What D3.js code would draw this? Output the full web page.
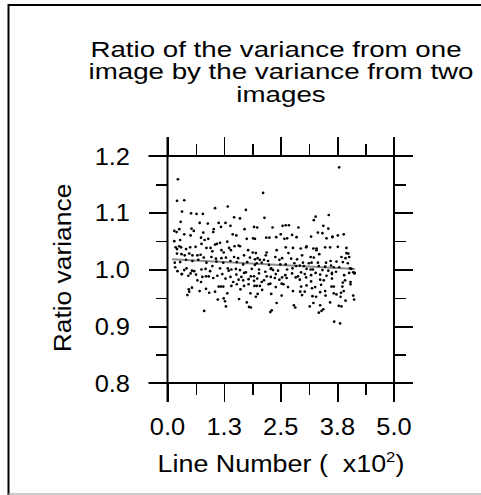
<!DOCTYPE html>
<html>
<head>
<meta charset="utf-8">
<script src="https://cdn.jsdelivr.net/npm/d3@7"></script>
<style>
  html, body { margin: 0; padding: 0; background: #fff; }
  svg { display: block; }
  text { font-family: "Liberation Sans", Arial, Helvetica, sans-serif; fill: #000; white-space: pre; }
</style>
</head>
<body>
<svg id="chart" width="481" height="495"></svg>
<script>
// ---- data ----
const titleLines = ["Ratio of the variance from one", "image by the variance from two", "images"];
const yAxisTitle = "Ratio variance";
const xAxisTitle = "Line Number (  x10";
const xAxisExponent = "2";

const xMajorTicks = [0, 125, 250, 375, 500];
const xMajorLabels = ["0.0", "1.3", "2.5", "3.8", "5.0"];
const xMinorTicks = [62.5, 187.5, 312.5, 437.5];
const yMajorTicks = [0.8, 0.9, 1.0, 1.1, 1.2];
const yMajorLabels = ["0.8", "0.9", "1.0", "1.1", "1.2"];
const yMinorTicks = [0.85, 0.95, 1.05, 1.15];

const fitLineNumber = [10, 414];
const fitRatio = [1.018, 1.001];

const lineNumber = [
23,379,211,21,37,32,105,133,173,52,64,78,214,147,160,356,327,323,29,71,89,113,128,344,355,
15,26,20,53,58,79,102,101,118,139,144,152,170,191,198,232,254,261,268,289,332,317,342,364,376,389,
37,51,74,82,90,105,109,116,132,148,157,160,175,189,193,218,225,240,250,258,264,275,285,307,322,329,348,351,359,364,
15,28,26,18,21,30,41,50,62,75,86,95,99,119,124,136,140,178,188,195,219,217,241,261,267,277,294,297,306,316,323,329,335,376,395,395,384,399,401,
21,31,38,48,55,66,73,80,97,107,119,129,147,156,169,182,193,199,204,213,222,238,247,253,273,286,299,312,318,332,350,360,373,393,387,398,
16,28,41,55,68,86,108,123,139,153,167,176,193,197,208,224,229,249,261,280,284,292,301,316,334,348,361,367,379,406,410,413,
17,22,32,37,42,54,59,75,84,94,99,116,133,135,141,151,160,169,186,202,216,228,233,244,264,276,295,307,321,342,355,363,372,403,
31,46,51,63,77,91,110,121,139,152,163,173,184,191,202,219,228,239,253,260,275,288,303,317,327,337,351,363,390,401,413,
66,74,85,101,128,145,157,167,179,191,198,208,213,223,237,247,256,263,283,292,306,317,337,345,363,387,392,404,
47,54,85,113,118,123,141,153,169,179,192,197,204,227,239,252,266,277,295,307,319,326,339,348,362,367,386,389,404,
44,48,71,92,105,132,161,183,199,209,229,252,293,297,303,320,328,337,349,367,373,382,383,410,412,
111,124,127,158,175,195,241,279,282,314,322,337,340,344,334,359,378,384,393,
81,129,180,184,227,230,368,381
];

const ratio = [
1.159,1.180,1.135,1.121,1.122,1.102,1.108,1.111,1.105,1.099,1.098,1.098,1.091,1.092,1.090,1.096,1.093,1.087,1.084,1.082,1.081,1.082,1.082,1.077,1.072,
1.068,1.071,1.066,1.072,1.068,1.065,1.071,1.066,1.075,1.077,1.062,1.060,1.071,1.075,1.074,1.074,1.077,1.078,1.078,1.074,1.065,1.058,1.064,1.057,1.060,1.062,
1.062,1.060,1.056,1.052,1.054,1.044,1.045,1.047,1.049,1.041,1.042,1.041,1.054,1.055,1.054,1.056,1.056,1.057,1.062,1.054,1.055,1.061,1.057,1.041,1.037,1.037,1.039,1.055,1.039,1.058,
1.050,1.052,1.041,1.039,1.036,1.039,1.036,1.039,1.040,1.045,1.038,1.038,1.032,1.034,1.030,1.038,1.034,1.034,1.030,1.029,1.030,1.025,1.034,1.039,1.029,1.038,1.037,1.025,1.039,1.022,1.021,1.034,1.027,1.040,1.038,1.029,1.022,1.028,1.022,
1.028,1.027,1.025,1.028,1.025,1.025,1.026,1.021,1.022,1.019,1.020,1.021,1.022,1.020,1.025,1.021,1.018,1.020,1.017,1.017,1.015,1.022,1.017,1.020,1.019,1.018,1.012,1.011,1.012,1.012,1.012,1.015,1.014,1.020,1.013,1.011,
1.012,1.013,1.017,1.015,1.017,1.012,1.014,1.012,1.015,1.013,1.009,1.013,1.008,1.011,1.012,1.008,1.002,1.009,1.009,1.011,1.006,1.007,1.006,1.000,1.006,1.005,1.007,1.004,1.004,1.001,0.995,0.994,
1.004,0.997,0.992,0.999,1.002,0.998,0.997,1.000,1.001,0.997,1.006,1.002,1.002,0.998,1.000,1.001,0.999,0.994,1.001,1.000,0.996,1.001,0.999,0.998,1.000,1.002,0.995,1.001,1.000,0.999,0.998,0.994,0.996,1.002,
0.992,0.989,0.993,0.991,0.987,0.988,0.989,0.992,0.987,0.991,0.987,0.995,0.988,0.988,0.993,0.988,0.987,0.992,0.986,0.990,0.993,0.988,0.992,0.990,0.994,0.991,0.989,0.992,0.990,0.994,0.993,
0.981,0.978,0.988,0.985,0.984,0.978,0.982,0.981,0.983,0.980,0.984,0.978,0.981,0.974,0.985,0.982,0.974,0.985,0.986,0.982,0.986,0.979,0.982,0.981,0.984,0.977,0.981,0.978,
0.965,0.968,0.966,0.970,0.970,0.970,0.971,0.974,0.971,0.974,0.971,0.971,0.971,0.975,0.969,0.975,0.969,0.962,0.970,0.972,0.967,0.969,0.973,0.962,0.970,0.970,0.970,0.962,0.974,
0.955,0.961,0.962,0.959,0.961,0.958,0.965,0.958,0.957,0.964,0.957,0.954,0.961,0.955,0.961,0.953,0.952,0.960,0.954,0.958,0.956,0.952,0.959,0.954,0.947,
0.947,0.949,0.944,0.948,0.942,0.952,0.941,0.937,0.933,0.935,0.941,0.937,0.927,0.930,0.924,0.942,0.936,0.935,0.945,
0.927,0.935,0.934,0.933,0.925,0.928,0.908,0.905
];

// ---- layout ----
const X0 = 167.5, X1 = 394, Y0 = 156, Y1 = 383;
const MAJOR = 19, MINOR = 12;

const svg = d3.select("#chart");

// outer frame
svg.append("line").attr("x1", 8.5).attr("x2", 8.5).attr("y1", 4).attr("y2", 495)
  .attr("stroke", "#000").attr("stroke-width", 2);
svg.append("line").attr("x1", 8).attr("x2", 481).attr("y1", 5).attr("y2", 5)
  .attr("stroke", "#000").attr("stroke-width", 2);
svg.append("line").attr("x1", 8).attr("x2", 481).attr("y1", 494).attr("y2", 494)
  .attr("stroke", "#999").attr("stroke-width", 1);

// title
const titleBaselines = [56.5, 79.3, 102];
const titleCenters = [276, 281, 281];
titleLines.forEach((t, i) => {
  svg.append("text")
    .attr("transform", `translate(${titleCenters[i]},${titleBaselines[i]}) scale(1.26,1)`)
    .attr("text-anchor", "middle")
    .style("font-size", "22px")
    .text(t);
});

const x = d3.scaleLinear().domain([0, 500]).range([X0, X1]);
const y = d3.scaleLinear().domain([0.8, 1.2]).range([Y1, Y0]);

function styleAxis(g) {
  g.select(".domain").remove();
  g.selectAll("text").remove();
  g.selectAll(".tick line").attr("stroke", "#000").attr("stroke-width", 1.6)
    .attr("shape-rendering", "crispEdges");
}

// major + minor ticks on all four sides
[[d3.axisBottom, Y1], [d3.axisTop, Y0]].forEach(([fn, pos]) => {
  svg.append("g").attr("transform", `translate(0,${pos})`)
    .call(fn(x).tickValues(xMajorTicks).tickSize(MAJOR)).call(styleAxis);
  svg.append("g").attr("transform", `translate(0,${pos})`)
    .call(fn(x).tickValues(xMinorTicks).tickSize(MINOR)).call(styleAxis);
});
[[d3.axisLeft, X0], [d3.axisRight, X1]].forEach(([fn, pos]) => {
  svg.append("g").attr("transform", `translate(${pos},0)`)
    .call(fn(y).tickValues(yMajorTicks).tickSize(MAJOR)).call(styleAxis);
  svg.append("g").attr("transform", `translate(${pos},0)`)
    .call(fn(y).tickValues(yMinorTicks).tickSize(MINOR)).call(styleAxis);
});

// axis lines (extended beyond the box by the major tick length)
const frame = svg.append("g").attr("stroke", "#000").attr("stroke-width", 2);
[Y0, Y1].forEach(p => frame.append("line").attr("x1", X0 - MAJOR).attr("x2", X1 + MAJOR).attr("y1", p).attr("y2", p));
[X0, X1].forEach(p => frame.append("line").attr("y1", Y0 - MAJOR).attr("y2", Y1 + MAJOR).attr("x1", p).attr("x2", p));

// tick labels
svg.append("g").selectAll("text").data(xMajorTicks).join("text")
  .attr("transform", d => `translate(${x(d)},435) scale(1.06,1)`)
  .attr("text-anchor", "middle")
  .style("font-size", "24px")
  .text((d, i) => xMajorLabels[i]);

svg.append("g").selectAll("text").data(yMajorTicks).join("text")
  .attr("transform", d => `translate(130,${y(d) + 8.5}) scale(1.06,1)`)
  .attr("text-anchor", "end")
  .style("font-size", "24px")
  .text((d, i) => yMajorLabels[i]);

// axis titles
svg.append("text")
  .attr("transform", "translate(71,268) rotate(-90) scale(1.1,1)")
  .attr("text-anchor", "middle")
  .style("font-size", "24px")
  .text(yAxisTitle);

const xt = svg.append("text")
  .attr("transform", "translate(281,472) scale(1.12,1)")
  .attr("text-anchor", "middle")
  .style("font-size", "24px");
xt.append("tspan").text(xAxisTitle);
xt.append("tspan").attr("dy", -10).style("font-size", "15px").text(xAxisExponent);
xt.append("tspan").attr("dy", 10).text(")");

// fit line
svg.append("line")
  .attr("x1", x(fitLineNumber[0])).attr("y1", y(fitRatio[0]))
  .attr("x2", x(fitLineNumber[1])).attr("y2", y(fitRatio[1]))
  .attr("stroke", "#8c8c8c").attr("stroke-width", 2);

// points
svg.append("g").selectAll("circle").data(lineNumber).join("circle")
  .attr("cx", d => x(d))
  .attr("cy", (d, i) => y(ratio[i]))
  .attr("r", 1.35)
  .attr("fill", "#000");
</script>
</body>
</html>
